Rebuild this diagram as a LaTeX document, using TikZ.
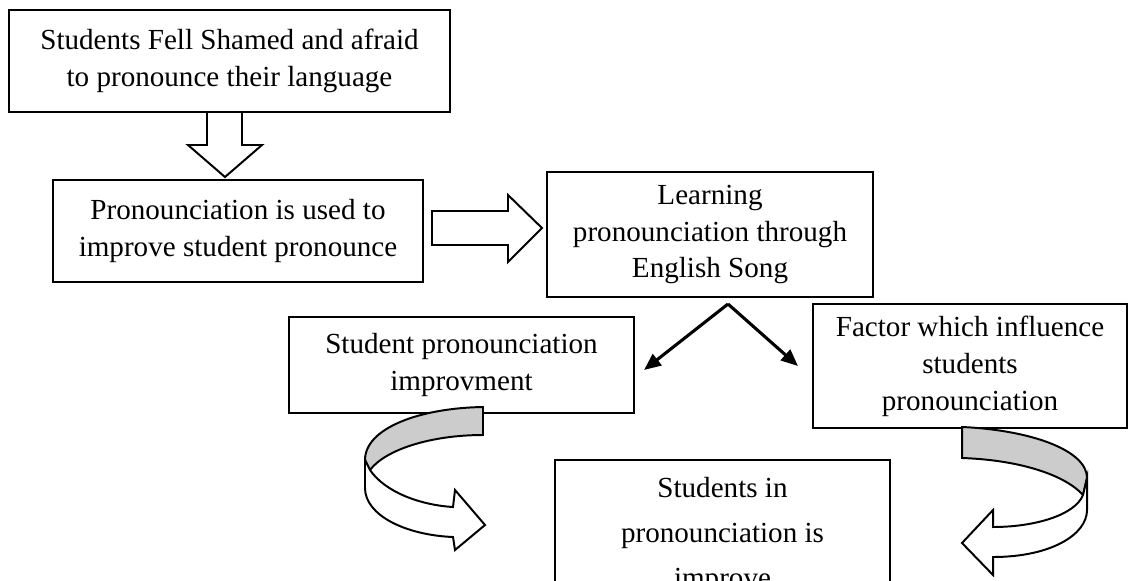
\documentclass[tikz,border=0pt]{standalone}
\usepackage{fontspec}
\setmainfont{Liberation Serif}
\usetikzlibrary{arrows.meta,calc}

\begin{document}
\begin{tikzpicture}[x=0.025cm,y=-0.025cm,
    box/.style={draw,line width=1.4pt,align=center,inner sep=0pt,font=\fontsize{20.7}{26.3}\selectfont},
    hollow/.style={draw,line width=1.4pt,fill=white,line join=miter},
    band/.style={draw,line width=1.4pt,fill=black!20},
    pointer/.style={line width=2.2pt,-{Triangle[length=12pt,width=10pt]}}]
   \clip (0,0) rectangle (1128,580);
   \draw (229.5,61) node[box,minimum width=11.03cm,minimum height=2.55cm] (shamed) {Students Fell Shamed and afraid\\to pronounce their language};
   \draw (238,231) node[box,minimum width=9.25cm,minimum height=2.55cm] (used) {Pronounciation is used to\\improve student pronounce};
   \draw (710,234.5) node[box,minimum width=8.15cm,minimum height=3.125cm] (song) {Learning\\pronounciation through\\English Song};
   \draw (461.5,365) node[box,minimum width=8.625cm,minimum height=2.4cm] (improv) {Student pronounciation\\improvment};
   \draw (970,366) node[box,minimum width=7.85cm,minimum height=3.1cm] (factor) {Factor which influence\\students\\pronounciation};
   \draw (722.5,535) node[box,minimum width=8.375cm,minimum height=3.75cm,font=\fontsize{20.7}{32}\selectfont] (result) {Students in\\pronounciation is\\improve};

   \draw[hollow] (207,112) -- (207,145) -- (188,145) -- (225,177) -- (262,145) -- (242,145) -- (242,112) -- cycle;
   \draw[hollow] (432,211) -- (508,211) -- (508,195) -- (542,228) -- (508,262) -- (508,245) -- (432,245) -- cycle;

   \coordinate (fork) at ($(song.south)+(18,6)$);
   \draw[pointer] (fork) -- ($(improv.east)+(9,5)$);
   \draw[pointer] (fork) -- ($(factor.west)+(-14,0)$);

   \draw[band] (483,407) .. controls (420,408) and (365,428) .. (365,460) -- (370,470) .. controls (385,450) and (430,435) .. (483,435) -- cycle;
   \draw[hollow] (370,470) .. controls (385,492) and (420,505) .. (453,507) -- (455,490) -- (485,525) -- (455,550) -- (453,537) .. controls (405,535) and (365,515) .. (365,488) -- (365,460) -- cycle;

   \draw[band] (962,427) .. controls (1030,430) and (1087,450) .. (1087,478) -- (1083,495) .. controls (1065,475) and (1020,460) .. (962,458) -- cycle;
   \draw[hollow] (1083,495) .. controls (1075,515) and (1035,527) .. (993,527) -- (993,510) -- (962,543) -- (993,575) -- (993,557) .. controls (1050,557) and (1087,535) .. (1087,510) -- (1087,478) -- cycle;
\end{tikzpicture}
\end{document}
